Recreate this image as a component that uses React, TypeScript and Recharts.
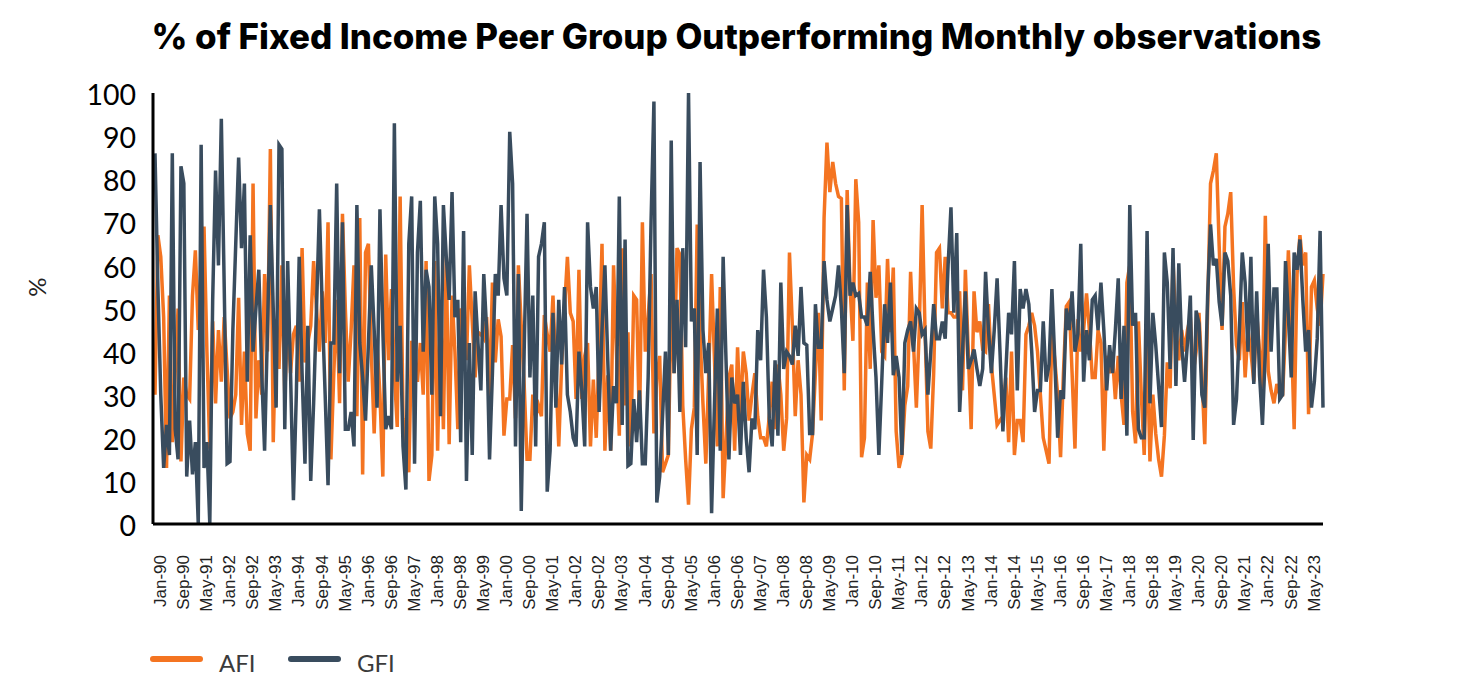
import React from 'react';
import { LineChart, Line, XAxis, YAxis, Legend } from 'recharts';

const TITLE = '% of Fixed Income Peer Group Outperforming Monthly observations';
const MONTHS = ['Jan', 'Feb', 'Mar', 'Apr', 'May', 'Jun', 'Jul', 'Aug', 'Sep', 'Oct', 'Nov', 'Dec'];
const FIRST_YEAR = 1990;
const TICK_STEP = 8;
const Y_TICKS = [0, 10, 20, 30, 40, 50, 60, 70, 80, 90, 100];

const afi = [
  30, 67, 62, 48, 13, 53, 19, 35, 50, 14.5,
  34, 30, 29, 53, 63.5, 45, 60, 69, 40, 17.5,
  47, 28, 45, 33, 48, 36, 24.5, 26, 30, 52.5,
  23, 40, 21, 17, 79, 24.5, 38, 30, 58, 40,
  87, 19, 47.5, 36, 60, 30, 47, 35, 44, 46,
  33, 64, 37.5, 42, 46, 61, 50, 40, 54, 42,
  70, 15, 35, 52, 28, 72, 50, 33, 45, 60,
  25, 71, 11.5, 63, 65, 40, 21, 42, 30, 11,
  62.5, 38, 54.5, 35, 22.5, 76, 24.5, 18, 12, 42.5,
  38, 33, 42, 30, 61, 10, 16, 61, 17, 51,
  22, 62, 18.5, 53, 40, 22, 50, 48, 38, 60,
  47, 34, 44.5, 44, 43, 48, 29, 56, 37.5, 47.5,
  43.5, 20.5, 29, 29, 41.5, 24.5, 60, 46, 32.5, 15,
  15, 30, 25, 27.5, 25, 48.5, 44, 40, 53, 35,
  18, 37, 50, 62, 49, 47, 29, 59, 29, 39,
  42, 18, 33.5, 20, 40, 65, 17, 34.5, 17, 60,
  40, 20.5, 64, 27.5, 44.5, 18, 53, 52, 22, 70,
  40, 48, 58, 21, 34, 39, 12, 14, 16, 52,
  35, 64, 62.5, 27.5, 15, 4.5, 22, 27, 69.5, 44,
  28, 14, 35, 58, 38, 18, 55, 6, 20, 34,
  37, 17, 41, 25, 40, 35, 24, 30, 35, 25,
  20, 20, 18, 25, 33, 22, 37, 30, 17, 24.5,
  63, 46, 25, 38, 30, 5, 16, 15, 21, 35,
  49, 24, 71, 88.5, 77, 84, 79, 76, 75.5, 31,
  77.5, 55, 42.5, 80, 70, 15.5, 20, 56, 36, 70.5,
  52.5, 60, 40, 39, 61.5, 44.5, 59.5, 21.5, 13, 16,
  27.5, 32, 58.5, 42, 27, 45, 74, 45, 21.5, 17.5,
  35, 63, 64, 50, 62, 49, 49, 48, 48, 54,
  31, 59, 40, 22, 54, 44.5, 47, 40.5, 40, 51,
  37, 30, 23, 24, 25, 34, 19, 40, 16, 24,
  24, 19, 44, 46, 49, 46, 40, 30, 20, 17,
  14, 45, 38, 30, 15.5, 35, 50.5, 51.5, 35, 17.5,
  47.5, 40, 45, 53.5, 45, 34, 34, 45, 42, 17,
  39, 35, 39, 29, 39, 30, 23, 56, 60, 26,
  18.7, 47, 30, 16, 42, 14.5, 30, 21, 15, 11,
  20.5, 37.5, 31.5, 61, 45, 38, 45, 40, 45, 48,
  35, 40, 49, 35, 18.5, 50, 79, 82, 86, 64.5,
  45, 69, 72, 77, 55, 41.5, 38, 51.5, 34, 45,
  40, 33, 49, 40, 31.5, 71.5, 35.5, 31, 28, 32.5,
  30, 30, 45, 63.5, 45, 22, 58, 67, 60, 63,
  25.5, 55, 56.5, 50, 46, 58,
];

const gfi = [
  86, 55, 30, 13, 23, 16, 86, 22, 15, 83,
  79, 11, 24, 11.5, 19, 0, 88, 13, 19, 0,
  52, 82, 60, 94, 55, 14, 14.5, 45, 65, 85,
  64, 79, 33, 67, 40, 50, 59, 35, 17, 45,
  74, 50, 27, 88, 87, 22, 61, 35, 5.5, 30,
  62, 35, 14, 46, 10, 28, 50, 73, 50, 30,
  9, 42, 42, 79, 35, 70, 22, 22, 26, 18,
  74, 42, 34, 24, 42, 60, 45, 27, 73, 45,
  22, 25, 22, 93, 33, 46, 18, 8, 65, 76,
  14, 63, 75, 40, 59, 55, 30, 76, 65, 25,
  74, 62, 52, 77, 48, 52, 19, 68, 10, 42,
  16, 54, 42, 31, 58, 45, 15, 35, 58, 53,
  74, 57, 53, 91, 79, 18, 58, 3, 40, 72,
  34, 53, 18, 62, 65, 70, 7.5, 17, 49, 27,
  52, 37, 55, 30, 26, 20, 18, 40, 31, 18,
  70, 55, 50, 55, 26, 45, 60, 38, 17, 32,
  28, 76, 23, 66, 13.5, 14, 29, 19, 31, 14,
  14, 34, 70, 98, 5, 11, 25, 40, 16, 89,
  35, 52, 26, 64, 41, 100, 47, 50, 16, 84,
  45, 35, 42, 2.5, 28, 50, 17, 62, 38, 15,
  34, 28, 30, 16, 33, 20, 12, 24.5, 22, 45,
  38, 59, 48, 24.5, 18, 38, 20.5, 56, 36, 40,
  39, 37, 46, 39, 55, 42, 41.5, 21, 21, 51,
  41, 41, 61, 52, 47, 50, 53, 60, 50, 35,
  74, 53, 56, 53, 53.5, 48, 48, 46, 58.5, 45,
  34, 16, 33, 51, 42, 56, 34.5, 39, 34, 16,
  42, 45, 47, 40, 50, 49, 44, 45, 30, 40,
  51, 43, 43, 47, 43, 60, 73.5, 49, 67.5, 26,
  40, 54, 36, 38, 40.5, 36, 32, 36, 58.5, 45,
  35, 45, 57, 40, 21.5, 35, 49, 44, 61, 31,
  54.5, 50, 54.5, 51, 40, 26, 31, 31, 47, 33,
  37, 54.5, 38, 20, 31, 29, 50, 45, 54, 40,
  44, 65, 33, 45, 38, 52, 53, 45, 56, 45,
  31, 41.5, 35, 45, 57, 29, 46, 20.5, 74, 46,
  49, 22, 20, 20, 68, 28, 49, 41.5, 32, 22.5,
  63, 56, 36, 64, 32, 60.5, 41.5, 33, 42, 53,
  19.5, 49.5, 46.5, 30, 27, 53, 69.5, 60, 61.5, 51.5,
  46, 63, 61, 53, 23, 29, 45, 63, 56, 40,
  62, 32.5, 54, 34.5, 23, 40, 65, 40, 54.5, 54.5,
  29, 30, 61, 48, 34, 63, 59, 66, 52, 40,
  45, 27, 33, 43, 68, 27,
];

const monthLabel = (i: number) => {
  const year = FIRST_YEAR + Math.floor(i / 12);
  return `${MONTHS[i % 12]}-${String(year % 100).padStart(2, '0')}`;
};

const rows = gfi.map((g, i) => ({ month: monthLabel(i), AFI: afi[i], GFI: g }));

const ORANGE = '#F47421';
const SLATE = '#394C5E';
const SANS = 'Lato, sans-serif';

const MonthTick = (props: any) => {
  const { x, y, payload } = props;
  return (
    <text
      transform={`translate(${x + 11},${y + 23}) rotate(-90)`}
      textAnchor="end"
      fontFamily="'Liberation Sans', Arial, sans-serif"
      fontSize={17}
      fill="#222"
    >
      {payload.value}
    </text>
  );
};

const PercentLabel = () => (
  <text transform="translate(46,287) rotate(-90)" textAnchor="middle" fontFamily={SANS} fontSize={24} fill="#222">
    %
  </text>
);

const LegendRow = ({ payload }: any) => (
  <div style={{ display: 'flex', alignItems: 'center', fontFamily: SANS, fontSize: 24, color: '#3b3b3b' }}>
    {(payload || []).map((p: any) => (
      <div key={p.value} style={{ display: 'flex', alignItems: 'center', width: 138 }}>
        <span style={{ display: 'inline-block', width: 53, height: 6, borderRadius: 3, background: p.color, marginRight: 16, marginTop: -8 }} />
        <span>{p.value}</span>
      </div>
    ))}
  </div>
);

export default function App() {
  return (
    <div style={{ position: 'absolute', left: 0, top: 0, width: 1478, height: 684, background: '#fff' }}>
      <div
        style={{
          position: 'absolute',
          left: 151.5,
          top: 14,
          width: 1250,
          fontFamily: 'Inter, sans-serif',
          fontWeight: 800,
          fontSize: 34.9,
          lineHeight: '44px',
          color: '#000',
          whiteSpace: 'nowrap',
        }}
      >
        {TITLE}
      </div>
      <LineChart
        width={1478}
        height={684}
        data={rows}
        margin={{ top: 93, right: 155, bottom: 100, left: 73 }}
      >
        <XAxis
          dataKey="month"
          interval={TICK_STEP - 1}
          tick={<MonthTick />}
          tickLine={false}
          height={30}
          axisLine={{ stroke: '#000', strokeWidth: 3 }}
          padding={{ left: 2, right: 0 }}
        />
        <YAxis
          width={80}
          domain={[0, 100]}
          ticks={Y_TICKS}
          interval={0}
          tickLine={false}
          axisLine={{ stroke: '#000', strokeWidth: 3 }}
          tick={{ fontFamily: SANS, fontSize: 28.5, fill: '#000', dx: -9, dy: 2 }}
          label={<PercentLabel />}
        />
        <Legend
          content={<LegendRow />}
          wrapperStyle={{ position: 'absolute', left: 150, top: 648, width: 400, height: 30, bottom: 'auto' }}
        />
        <Line dataKey="AFI" stroke={ORANGE} strokeWidth={3.5} dot={false} isAnimationActive={false} />
        <Line dataKey="GFI" stroke={SLATE} strokeWidth={3.5} dot={false} isAnimationActive={false} />
      </LineChart>
    </div>
  );
}
